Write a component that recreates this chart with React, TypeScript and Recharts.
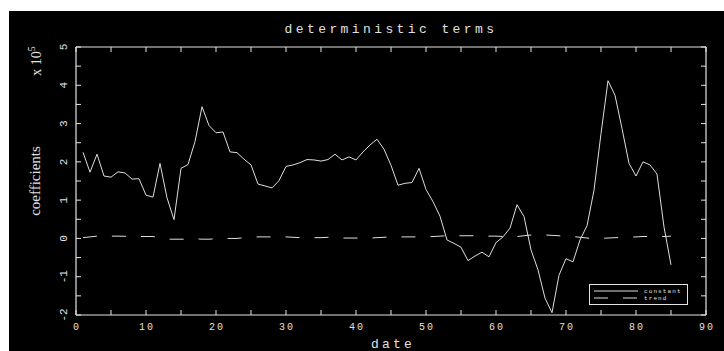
import React from 'react';
import { ComposedChart, Line, XAxis, YAxis, ReferenceLine, Legend, Customized } from 'recharts';

const dates = Array.from({ length: 85 }, (_, i) => i + 1);

const constantValues = [
  2.25, 1.73, 2.2, 1.63, 1.6, 1.74, 1.71, 1.55, 1.56, 1.13,
  1.08, 1.96, 1.06, 0.49, 1.83, 1.93, 2.53, 3.44, 2.95, 2.76,
  2.78, 2.26, 2.24, 2.07, 1.92, 1.42, 1.37, 1.32, 1.51, 1.88,
  1.92, 1.98, 2.06, 2.05, 2.02, 2.06, 2.2, 2.05, 2.13, 2.05,
  2.26, 2.44, 2.59, 2.33, 1.91, 1.39, 1.44, 1.46, 1.83, 1.28,
  0.96, 0.58, -0.04, -0.13, -0.23, -0.58, -0.46, -0.36, -0.48, -0.11,
  0.04, 0.27, 0.88, 0.57, -0.3, -0.82, -1.56, -1.94, -0.96, -0.53,
  -0.61, -0.04, 0.33, 1.26, 2.74, 4.12, 3.74, 2.87, 1.96, 1.63,
  2.0, 1.92, 1.68, 0.3, -0.69,
];

const trendValues = [
  0.02, 0.04, 0.06, 0.06, 0.06, 0.06, 0.055, 0.05, 0.05, 0.05,
  0.05, 0.02, -0.02, -0.02, -0.02, -0.02, -0.01, -0.02, -0.02, -0.01,
  0.0, 0.0, 0.0, 0.02, 0.03, 0.04, 0.04, 0.04, 0.04, 0.04,
  0.03, 0.02, 0.02, 0.02, 0.02, 0.03, 0.02, 0.01, 0.01, 0.01,
  0.01, 0.01, 0.02, 0.03, 0.04, 0.04, 0.04, 0.04, 0.04, 0.04,
  0.05, 0.06, 0.07, 0.07, 0.07, 0.07, 0.07, 0.07, 0.06, 0.06,
  0.05, 0.05, 0.05, 0.07, 0.09, 0.09, 0.09, 0.08, 0.07, 0.06,
  0.05, 0.03, 0.01, 0.0, 0.0, 0.01, 0.02, 0.03, 0.03, 0.04,
  0.05, 0.05, 0.05, 0.05, 0.06,
];

const xTicks = [0, 5, 10, 15, 20, 25, 30, 35, 40, 45, 50, 55, 60, 65, 70, 75, 80, 85, 90];
const yTicks = [-2, -1.5, -1, -0.5, 0, 0.5, 1, 1.5, 2, 2.5, 3, 3.5, 4, 4.5, 5];

const titleText = 'deterministic terms';
const xLabel = 'date';
const yLabel = 'coefficients';
const seriesNames = ['constant', 'trend'];

const data = dates.map((d, i) => ({ date: d, constant: constantValues[i], trend: trendValues[i] }));

const CW = 715;
const CH = 340;
const PL = 67;
const PT = 36;
const PR = 18;
const PB = 36;
const PW = CW - PL - PR;
const PH = CH - PT - PB;

const AXIS = '#e4e4e4';
const LINE = '#dedede';
const TEXT = '#e0e0e0';
const MONO = '"Liberation Mono", "DejaVu Sans Mono", monospace';
const SERIF = '"Liberation Serif", "DejaVu Serif", serif';

const XTick = (props: any) => {
  const { x, y, payload } = props;
  const v = payload.value;
  const major = v % 10 === 0;
  return (
    <g>
      <line x1={x} x2={x} y1={y} y2={y - 5} stroke={AXIS} strokeWidth={1} />
      <line x1={x} x2={x} y1={y - PH} y2={y - PH + 5} stroke={AXIS} strokeWidth={1} />
      {major && (
        <text x={x + 1} y={y + 15} textAnchor="middle" fill={TEXT} fontFamily={MONO} fontSize={10} letterSpacing={2}>
          {v}
        </text>
      )}
    </g>
  );
};

const YTick = (props: any) => {
  const { x, y, payload } = props;
  const v = payload.value;
  const major = Number.isInteger(v);
  const lx = x - 12;
  return (
    <g>
      <line x1={x} x2={x + 5} y1={y} y2={y} stroke={AXIS} strokeWidth={1} />
      <line x1={x + PW} x2={x + PW - 5} y1={y} y2={y} stroke={AXIS} strokeWidth={1} />
      {major && (
        <text
          x={lx}
          y={y}
          transform={`rotate(-90 ${lx} ${y})`}
          textAnchor="middle"
          dominantBaseline="central"
          fill={TEXT}
          fontFamily={MONO}
          fontSize={11}
        >
          {v}
        </text>
      )}
    </g>
  );
};

const Texts = () => (
  <g>
    <text x={PL + PW / 2} y={22} textAnchor="middle" fill={TEXT} fontFamily={MONO} fontSize={13} letterSpacing={3.4}>
      {titleText}
    </text>
    <text x={PL + PW / 2 + 2} y={337} textAnchor="middle" fill={TEXT} fontFamily={MONO} fontSize={13} letterSpacing={3.2}>
      {xLabel}
    </text>
    <text
      x={26}
      y={PT + PH / 2}
      transform={`rotate(-90 26 ${PT + PH / 2})`}
      textAnchor="middle"
      dominantBaseline="central"
      fill={TEXT}
      fontFamily={SERIF}
      fontSize={15}
    >
      {yLabel}
    </text>
    <text
      x={27}
      y={50}
      transform={`rotate(-90 27 50)`}
      textAnchor="middle"
      dominantBaseline="central"
      fill={TEXT}
      fontFamily={SERIF}
      fontSize={14}
    >
      x 10<tspan dy={-5} fontSize={10}>5</tspan>
    </text>
  </g>
);

const LegendBox = (props: any) => {
  const payload = props.payload || [];
  const items = seriesNames.map((n) => payload.find((p: any) => p.dataKey === n) || { value: n, dataKey: n });
  return (
    <svg width={99} height={21} style={{ display: 'block' }}>
      <rect x={0.5} y={0.5} width={98} height={20} fill="#000" stroke={AXIS} strokeWidth={1} />
      {items.map((it: any, i: number) => (
        <g key={it.dataKey}>
          <line
            x1={5}
            x2={49}
            y1={7 + i * 7}
            y2={7 + i * 7}
            stroke={LINE}
            strokeWidth={1}
            strokeDasharray={it.dataKey === 'trend' ? '14 15' : undefined}
          />
          <text x={55} y={9 + i * 7} fill={TEXT} fontFamily={MONO} fontSize={6} letterSpacing={1.1}>
            {it.value}
          </text>
        </g>
      ))}
    </svg>
  );
};

export default function App() {
  return (
    <div style={{ position: 'absolute', left: 0, top: 0, width: 724, height: 351, background: '#fff' }}>
      <div style={{ position: 'absolute', left: 9, top: 11, width: CW, height: CH, background: '#000' }}>
        <ComposedChart width={CW} height={CH} data={data} margin={{ top: PT, right: PR, bottom: 0, left: 0 }}>
          <XAxis
            dataKey="date"
            type="number"
            domain={[0, 90]}
            ticks={xTicks}
            interval={0}
            height={PB}
            tickSize={0}
            tickMargin={0}
            tickLine={false}
            axisLine={{ stroke: AXIS, strokeWidth: 1.2 }}
            tick={<XTick />}
            allowDataOverflow
          />
          <YAxis
            type="number"
            domain={[-2, 5]}
            ticks={yTicks}
            interval={0}
            width={PL}
            tickSize={0}
            tickMargin={0}
            tickLine={false}
            axisLine={{ stroke: AXIS, strokeWidth: 1.2 }}
            tick={<YTick />}
            allowDataOverflow
          />
          <ReferenceLine y={5} stroke={AXIS} strokeWidth={1.2} />
          <ReferenceLine x={90} stroke={AXIS} strokeWidth={1.2} />
          <Line
            type="linear"
            dataKey="constant"
            name="constant"
            stroke={LINE}
            strokeWidth={1}
            dot={false}
            isAnimationActive={false}
          />
          <Line
            type="linear"
            dataKey="trend"
            name="trend"
            stroke={LINE}
            strokeWidth={1}
            strokeDasharray="14 15"
            dot={false}
            isAnimationActive={false}
          />
          <Legend
            layout="vertical"
            align="center"
            verticalAlign="middle"
            content={<LegendBox />}
            wrapperStyle={{ position: 'absolute', left: 580, top: 273, width: 99, height: 21 }}
          />
          <Customized component={Texts} />
        </ComposedChart>
      </div>
    </div>
  );
}
